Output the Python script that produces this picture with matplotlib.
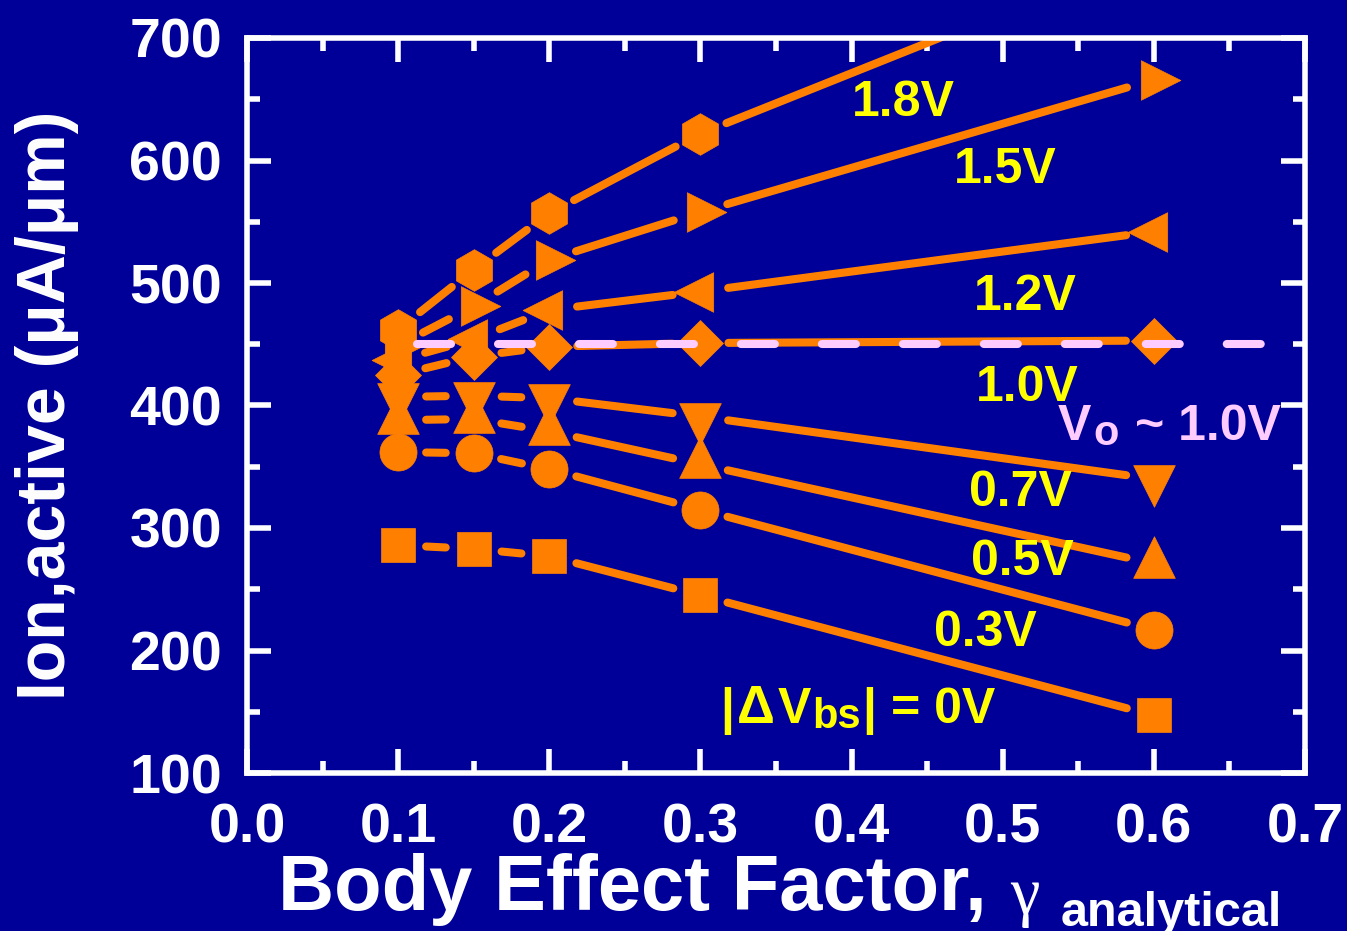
import numpy as np
import matplotlib
matplotlib.use('Agg')
import matplotlib.pyplot as plt
from matplotlib.path import Path
from matplotlib.ticker import MultipleLocator
from matplotlib import font_manager

W, H, DPI = 1347, 931, 100
BG = '#000099'
ORANGE = '#FF8000'
YELLOW = '#FFFF00'
PINK = '#FFCCFF'

# body effect factor (x) and on-current per |dVbs| bias (uA/um)
gamma = [0.1, 0.15, 0.2, 0.3, 0.6]
ion_0v0 = [286, 283, 277, 245, 147]
ion_0v3 = [362, 361, 348, 315, 217]
ion_0v5 = [388, 389, 379, 352, 271]
ion_0v7 = [407, 408, 406, 391, 340]
ion_1v0 = [425, 440, 448, 451, 453]
ion_1v2 = [437, 454, 478, 493, 542]
ion_1v5 = [449, 481, 519, 558, 666]
ion_1v8 = [462, 511, 557, 622, 770]
ion_target = 450

bias_labels = ['0.3V', '0.5V', '0.7V', '1.0V', '1.2V', '1.5V', '1.8V']
# label anchor (pixel x, pixel baseline) for each bias label
label_px = [(985, 646), (1022, 575), (1020, 506), (1027, 401),
            (1025, 310), (1005, 183), (903, 116)]

xticks = np.arange(0.0, 0.71, 0.1)
yticks = np.arange(100, 701, 100)

plt.rcParams['font.family'] = ['Liberation Sans', 'DejaVu Sans']
plt.rcParams['font.weight'] = 'bold'
plt.rcParams['lines.scale_dashes'] = False


def tri(direction):
    # triangle centred on its centroid, width == height == 1
    base = np.array([(0, 2 / 3), (-0.5, -1 / 3), (0.5, -1 / 3), (0, 2 / 3)])
    if direction == 'down':
        base[:, 1] *= -1
    elif direction == 'right':
        base = base[:, ::-1].copy()
    elif direction == 'left':
        base = base[:, ::-1].copy()
        base[:, 0] *= -1
    return Path(base, [Path.MOVETO, Path.LINETO, Path.LINETO, Path.CLOSEPOLY])


series = [
    (ion_0v0, 's', 24.5),
    (ion_0v3, 'o', 26.7),
    (ion_0v5, tri('up'), 40),
    (ion_0v7, tri('down'), 40),
    (ion_1v0, 'D', 23.4),
    (ion_1v2, tri('left'), 38),
    (ion_1v5, tri('right'), 38),
    (ion_1v8, 'h', 30),
]

fig = plt.figure(figsize=(W / DPI, H / DPI), dpi=DPI, facecolor=BG)
ax = fig.add_axes([247 / W, 1 - 773 / H, (1305 - 247) / W, (773 - 38) / H])
ax.set_facecolor(BG)
ax.set_xlim(0, 0.7)
ax.set_ylim(100, 700)


def fx(px, py):
    return px / W, 1 - py / H


def gapped_line(xs, ys, gap_px=28):
    # segments between neighbouring points, stopped short of each marker
    pts = ax.transData.transform(np.column_stack([xs, ys]))
    inv = ax.transData.inverted()
    for p0, p1 in zip(pts[:-1], pts[1:]):
        u = (p1 - p0) / np.hypot(*(p1 - p0))
        a = inv.transform(p0 + u * gap_px)
        b = inv.transform(p1 - u * gap_px)
        ax.plot([a[0], b[0]], [a[1], b[1]], color=ORANGE, lw=5.8,
                solid_capstyle='round', zorder=2)


for ys, mk, ms in series:
    gapped_line(gamma, ys)
    ax.plot(gamma, ys, ls='none', marker=mk, ms=ms, color=ORANGE,
            mec=ORANGE, mew=0.5, zorder=3)

# target current level
ax.plot([0.1125, 0.671], [ion_target, ion_target], color=PINK, lw=5.8,
        dashes=(24.5, 33.8), dash_capstyle='round', zorder=4)

ax.xaxis.set_minor_locator(MultipleLocator(0.05))
ax.yaxis.set_minor_locator(MultipleLocator(50))
ax.set_xticks(xticks)
ax.set_xticklabels([f'{v:.1f}' for v in xticks])
ax.set_yticks(yticks)
ax.set_yticklabels([f'{v:d}' for v in yticks])
ax.tick_params(which='both', direction='in', top=True, right=True,
               color='white', width=4, labelcolor='white', labelsize=40)
ax.tick_params(which='major', length=17)
ax.tick_params(which='minor', length=9)
ax.tick_params(axis='y', pad=18)
ax.tick_params(axis='x', pad=21)
for sp in ax.spines.values():
    sp.set_color('white')
    sp.set_linewidth(4)

for lab, (px, py) in zip(bias_labels, label_px):
    fig.text(*fx(px, py), lab, color=YELLOW, fontsize=36, ha='center',
             va='baseline')


def run(x0, y0, pieces, color):
    # consecutive text pieces laid left to right on a common baseline
    r = fig.canvas.get_renderer()
    x = x0
    for s, size, dy, gap, family in pieces:
        x += gap
        t = fig.text(*fx(x, y0 + dy), s, fontsize=size, color=color,
                     family=family, ha='left', va='baseline')
        x += t.get_window_extent(r).width


sans = ['Liberation Sans', 'DejaVu Sans']
run(1058, 440, [('V', 36, 0, 0, sans), ('o', 30, 5, 2, sans),
                ('~ 1.0V', 36, 0, 16, sans)], PINK)
run(720, 723, [('|', 36, 0, 0, sans), ('Δ', 38, 0, 3, sans),
               ('V', 36, 0, 3, sans), ('bs', 30, 5, 1, sans),
               ('|', 36, 0, 2, sans), ('= 0V', 36, 0, 14, sans)], YELLOW)

# x axis title
fig.text(*fx(278, 910), 'Body Effect Factor,', color='white', fontsize=56,
         ha='left', va='baseline')
fig.text(*fx(1010, 914), 'γ', color='white', fontsize=48,
         family=['Liberation Serif', 'DejaVu Serif'], fontweight='normal',
         ha='left', va='baseline')
fig.text(*fx(1061, 926), 'analytical', color='white', fontsize=35,
         ha='left', va='baseline')

# y axis title, condensed face when present
try:
    font_manager.findfont(font_manager.FontProperties(family='Liberation Sans Narrow'),
                          fallback_to_default=False)
    yfam, ysize = ['Liberation Sans Narrow', 'DejaVu Sans'], 57
except ValueError:
    yfam, ysize = sans, 49
fig.text(*fx(15, 405), 'Ion,active (μA/μm)', color='white', fontsize=ysize,
         family=yfam, rotation=90, ha='left', va='center')

fig.savefig('out.png', dpi=DPI, facecolor=BG)
